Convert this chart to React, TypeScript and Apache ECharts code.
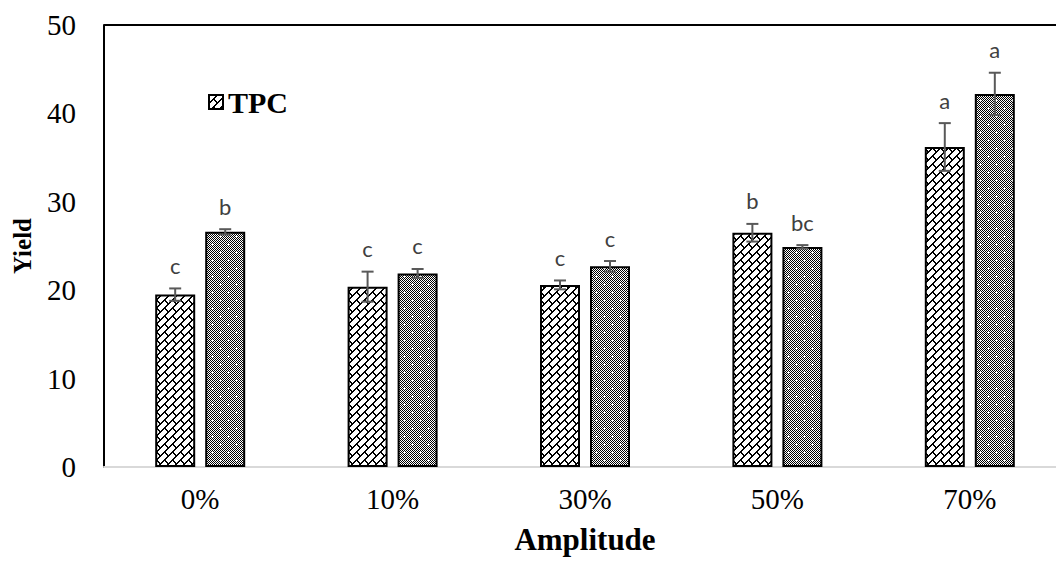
import React, { useEffect, useRef } from "react";
import * as echarts from "echarts";

const categories = ["0%", "10%", "30%", "50%", "70%"];
const tpcA = [19.5, 20.4, 20.6, 26.5, 36.2];
const tpcB = [26.6, 21.9, 22.7, 24.9, 42.2];
const errA = [0.7, 1.7, 0.5, 1.0, 2.7];
const errB = [0.3, 0.5, 0.6, 0.2, 2.4];
const letA = ["c", "c", "c", "b", "a"];
const letB = ["b", "c", "c", "bc", "a"];
const yTicks = { min: 0, max: 50, interval: 10 };

function makePattern(size: number, isBlack: (x: number, y: number) => boolean) {
  const c = document.createElement("canvas");
  c.width = size;
  c.height = size;
  const ctx = c.getContext("2d")!;
  ctx.fillStyle = "#fff";
  ctx.fillRect(0, 0, size, size);
  ctx.fillStyle = "#000";
  for (let y = 0; y < size; y++) {
    for (let x = 0; x < size; x++) {
      if (isBlack(x, y)) ctx.fillRect(x, y, 1, 1);
    }
  }
  return {
    image: c.toDataURL(),
    repeat: "repeat",
    imageWidth: size,
    imageHeight: size,
  } as any;
}

const brickRows = [0x01, 0x02, 0x04, 0x08, 0x18, 0x24, 0x42, 0x81];

export default function App() {
  const ref = useRef<HTMLDivElement>(null);
  useEffect(() => {
    if (!ref.current) return;
    const chart = echarts.init(ref.current, null, { renderer: "svg" });

    const bit = (x: number, y: number) => ((brickRows[(y + 8) % 8] >> (7 - ((x + 8) % 8))) & 1) === 1;
    const zig = makePattern(8, (x, y) => bit(x, y) || bit(x - 1, y));
    const dots = makePattern(16, (x, y) => {
      const plus = (cx: number, cy: number) =>
        (x === cx && Math.abs(y - cy) <= 1) || (y === cy && Math.abs(x - cx) <= 1);
      if (plus(4, 4) || plus(12, 12)) return false;
      return (x + y) % 2 === 0 || (x % 4 === 1 && y % 2 === 1);
    });

    const errSeries = (vals: number[], errs: number[], lets: string[], sign: number) => ({
      type: "custom",
      data: vals.map((v, i) => [i, v, errs[i]]),
      z: 5,
      renderItem: (params: any, api: any) => {
        const i = api.value(0);
        const v = api.value(1);
        const e = api.value(2);
        const band = api.size([1, 0])[0];
        const off = sign * band * 0.13;
        const top = api.coord([i, v + e]);
        const bot = api.coord([i, v - e]);
        const x = top[0] + off;
        const cap = 6;
        const st = { stroke: "#595959", lineWidth: 2 };
        return {
          type: "group",
          children: [
            { type: "line", shape: { x1: x, y1: top[1], x2: x, y2: bot[1] }, style: st },
            { type: "line", shape: { x1: x - cap, y1: top[1], x2: x + cap, y2: top[1] }, style: st },
            { type: "line", shape: { x1: x - cap, y1: bot[1], x2: x + cap, y2: bot[1] }, style: st },
            {
              type: "text",
              x: x,
              y: top[1] - 12,
              style: {
                text: lets[params.dataIndex],
                fill: "#404040",
                font: "22px Lato",
                align: "center",
                verticalAlign: "bottom",
              },
            },
          ],
        };
      },
    });

    chart.setOption({
      animation: false,
      grid: { left: 104, top: 25, width: 962, height: 442, outerBoundsMode: "none" } as any,
      legend: {
        data: ["TPC"],
        left: 203,
        top: 82,
        itemWidth: 14,
        itemHeight: 14,
        itemGap: 10,
        icon: "rect",
        textStyle: { fontFamily: "Liberation Serif", fontWeight: "bold", fontSize: 30, color: "#000" },
      },
      xAxis: {
        type: "category",
        data: categories,
        name: "Amplitude",
        nameLocation: "middle",
        nameGap: 57,
        nameTextStyle: { fontFamily: "Liberation Serif", fontWeight: "bold", fontSize: 31, color: "#000" },
        axisLine: { lineStyle: { color: "#d9d9d9", width: 2 } },
        axisTick: { show: false },
        axisLabel: { fontFamily: "Liberation Serif", fontSize: 29, color: "#000", margin: 17 },
      },
      yAxis: {
        type: "value",
        ...yTicks,
        name: "Yield",
        nameLocation: "middle",
        nameGap: 69,
        nameTextStyle: { fontFamily: "Liberation Serif", fontWeight: "bold", fontSize: 25, color: "#000" },
        axisLine: { show: true, lineStyle: { color: "#000", width: 2 } },
        axisTick: { show: false },
        splitLine: { show: false },
        axisLabel: { fontFamily: "Liberation Serif", fontSize: 29, color: "#000", margin: 28 },
      },
      graphic: [
        { type: "line", shape: { x1: 104, y1: 25, x2: 1056, y2: 25 }, style: { stroke: "#000", lineWidth: 2 } },
      ],
      series: [
        {
          name: "TPC",
          type: "bar",
          data: tpcA,
          barWidth: 40,
          barGap: "25%",
          itemStyle: { color: zig, borderColor: "#000", borderWidth: 2 },
        },
        {
          name: "TPC2",
          type: "bar",
          data: tpcB,
          barWidth: 40,
          itemStyle: { color: dots, borderColor: "#000", borderWidth: 2 },
        },
        errSeries(tpcA, errA, letA, -1),
        errSeries(tpcB, errB, letB, 1),
      ],
    } as any);
    return () => chart.dispose();
  }, []);
  return (
    <div
      ref={ref}
      style={{ position: "absolute", left: 0, top: 0, width: 1056, height: 568, background: "#fff" }}
    />
  );
}
